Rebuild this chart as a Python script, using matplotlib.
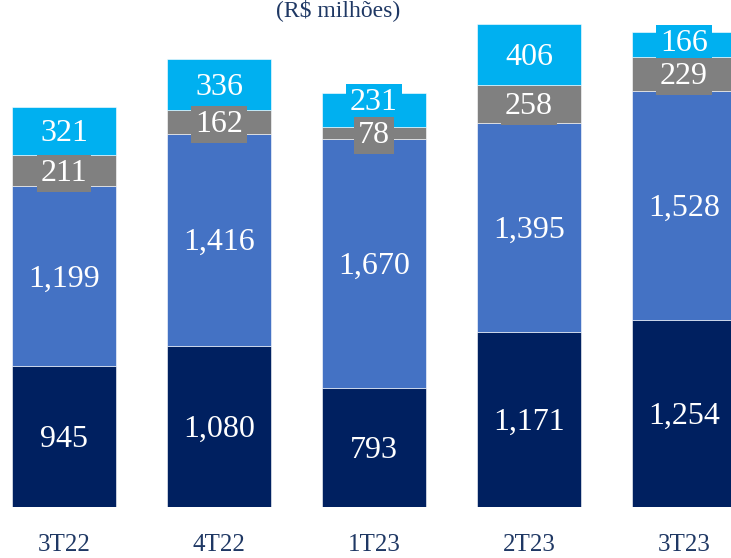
import matplotlib
matplotlib.use("Agg")
import matplotlib.pyplot as plt
import numpy as np

categories = ["3T22", "4T22", "1T23", "2T23", "3T23"]
serie_1 = [945, 1080, 793, 1171, 1254]
serie_2 = [1199, 1416, 1670, 1395, 1528]
serie_3 = [211, 162, 78, 258, 229]
serie_4 = [321, 336, 231, 406, 166]

series = [serie_1, serie_2, serie_3, serie_4]
colors = ["#002060", "#4472C4", "#808080", "#00B0F0"]

plt.rcParams['font.family'] = ['Liberation Serif', 'DejaVu Serif']

fig = plt.figure(figsize=(7.31, 5.58), dpi=100)
ax = fig.add_axes([0, 51/558, 1, 507/558])

x = np.arange(len(categories))
bottom = np.zeros(len(categories))
last_lab = np.full(len(categories), -1e9)
min_gap = 225   # minimum distance between labels in one bar (data units)
for k, (vals, col) in enumerate(zip(series, colors)):
    vals = np.array(vals)
    ax.bar(x, vals, width=0.671, bottom=bottom, color=col,
           edgecolor="white", linewidth=0.4)
    for i, (xi, b, v) in enumerate(zip(x, bottom, vals)):
        ypos = max(b + v/2, last_lab[i] + min_gap)
        last_lab[i] = ypos
        ax.annotate(f"{v:,}", (xi, ypos), xytext=(0, -2),
                    textcoords="offset points", ha="center", va="center",
                    color="white", fontsize=23, zorder=10 - k,
                    bbox=dict(boxstyle="square,pad=0.12", fc=col, ec="none"))
    bottom = bottom + vals

ax.set_xlim(-64/155, (731-64)/155)
ax.set_ylim(0, 507/0.1495)
ax.axis('off')

for xi, c in zip(x, categories):
    fig.text((64 + 155*xi)/731, 1 - 545/558, c, ha="center", va="center",
             color="#1F3864", fontsize=18)

fig.text(338/731, 1 - 10/558, "(R$ milhões)", ha="center", va="center",
         color="#1F3864", fontsize=17)

fig.savefig("out.png", dpi=100)
